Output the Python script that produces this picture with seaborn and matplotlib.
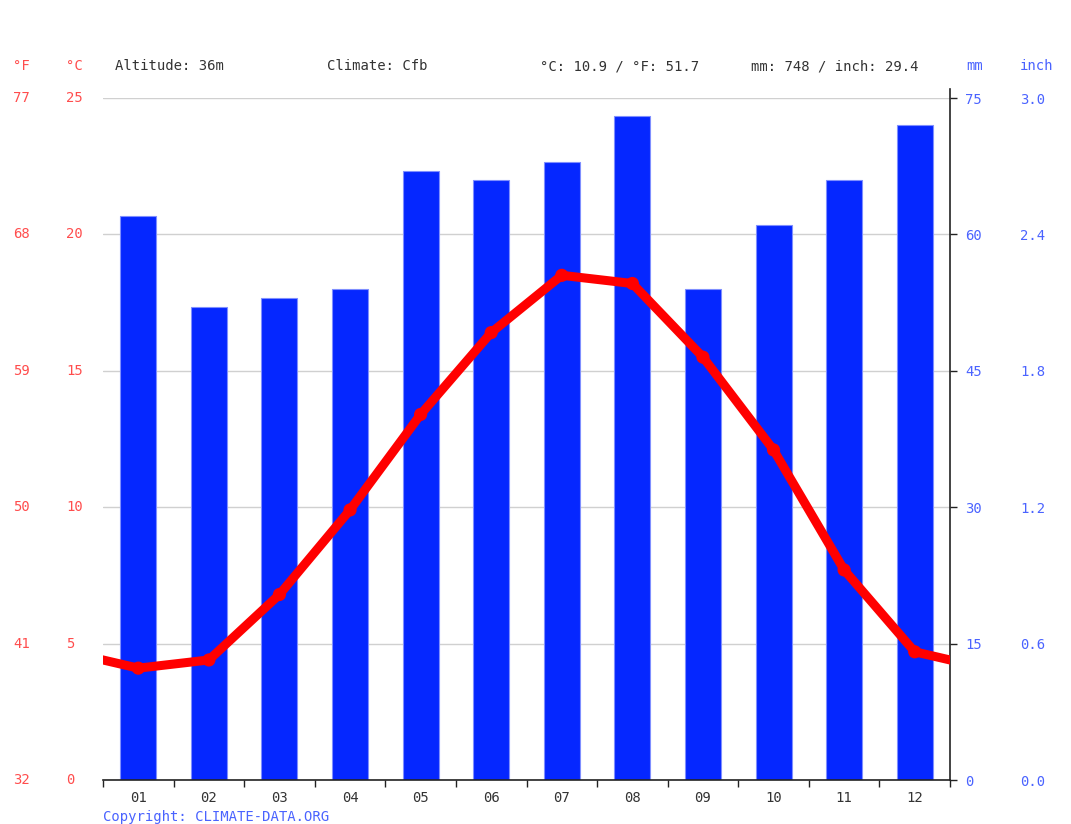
import matplotlib
matplotlib.use("Agg")
import matplotlib.pyplot as plt
import matplotlib.transforms as mtransforms
import seaborn as sns
import numpy as np
import pandas as pd

# %%
months = list(range(1, 13))
month_labels = ["01", "02", "03", "04", "05", "06", "07", "08", "09", "10", "11", "12"]
precip_mm = [62, 52, 53, 54, 67, 66, 68, 73, 54, 61, 66, 72]
temp_c = [4.1, 4.4, 6.8, 9.9, 13.4, 16.4, 18.5, 18.2, 15.5, 12.1, 7.7, 4.7]
c_ticks = [0, 5, 10, 15, 20, 25]
mm_ticks = [0, 15, 30, 45, 60, 75]
header_items = ["Altitude: 36m", "Climate: Cfb", "°C: 10.9 / °F: 51.7", "mm: 748 / inch: 29.4"]

# %%
sns.set_style("white")
plt.rcParams["font.family"] = ["DejaVu Sans Mono"]
plt.rcParams["font.size"] = 10

red_txt = "#ff4d4d"
blue_txt = "#4a63ff"
bar_col = "#0527ff"

fig = plt.figure(figsize=(10.71, 8.24), dpi=100)
ax = fig.add_axes([103 / 1071, 44 / 824, 847 / 1071, 682 / 824])
ax_t = ax.twinx()

# precipitation bars on the mm axis
df_p = pd.DataFrame({"month": months, "mm": precip_mm})
sns.barplot(data=df_p, x="month", y="mm", native_scale=True, width=0.51,
            color=bar_col, saturation=1, edgecolor="#7f8fff", linewidth=0.8, ax=ax)
ax.set_xlim(0.5, 12.5)
ax.set_ylim(0, 75)
ax.set_xlabel("")
ax.set_ylabel("")
ax.set_axisbelow(True)
ax.yaxis.grid(True, color="#d0d0d0", linewidth=1)
ax.xaxis.grid(False)
ax.set_yticks(mm_ticks)
ax.set_yticklabels([str(v) for v in mm_ticks], color=blue_txt)
ax.yaxis.tick_right()
ax.tick_params(axis="y", which="major", direction="out", length=5, width=1,
               color="#222222", pad=6, right=True, left=False,
               labelright=True, labelleft=False)
ax.set_xticks(months)
ax.set_xticklabels(month_labels, color="#333333")
ax.set_xticks([m + 0.5 for m in [0] + months], minor=True)
ax.tick_params(axis="x", which="major", length=0, pad=8)
ax.tick_params(axis="x", which="minor", direction="out", length=5, width=1,
               color="#222222", bottom=True)
for side in ["top", "left"]:
    ax.spines[side].set_visible(False)
for side in ["bottom", "right"]:
    ax.spines[side].set_color("#222222")
    ax.spines[side].set_linewidth(1.2)
ax.spines["right"].set_bounds(0, 76)

# temperature line on the °C axis
ax_t.set_ylim(0, 25)
ax_t.set_yticks([])
for side in ax_t.spines:
    ax_t.spines[side].set_visible(False)
wrap_x = [0] + months + [13]
wrap_t = [temp_c[-1]] + temp_c + [temp_c[0]]
sns.lineplot(x=wrap_x, y=wrap_t, color="#ff0000", linewidth=6.5, sort=False,
             solid_joinstyle="round", ax=ax_t)
sns.scatterplot(x=months, y=temp_c, color="#ff0000", s=90, edgecolor="none",
                zorder=5, ax=ax_t)
ax_t.set_xlim(0.5, 12.5)
ax_t.set_ylabel("")

# left labels: °F and °C columns
trans_c = mtransforms.blended_transform_factory(fig.transFigure, ax_t.transData)
for c in c_ticks:
    f = c * 9 / 5 + 32
    ax_t.text(13 / 1071, c, f"{f:.0f}", transform=trans_c, color=red_txt,
              ha="left", va="center")
    ax_t.text(66 / 1071, c, f"{c}", transform=trans_c, color=red_txt,
              ha="left", va="center")

# right labels: inch column
trans_mm = mtransforms.blended_transform_factory(fig.transFigure, ax.transData)
for mm in mm_ticks:
    ax.text(1020 / 1071, mm, f"{mm / 25.4:.1f}", transform=trans_mm,
            color=blue_txt, ha="left", va="center_baseline")

# header row
hy = 1 - 66 / 824
fig.text(13 / 1071, hy, "°F", color=red_txt, ha="left", va="center")
fig.text(66 / 1071, hy, "°C", color=red_txt, ha="left", va="center")
for xp, txt in zip([115, 327, 540, 751], header_items):
    fig.text(xp / 1071, hy, txt, color="#333333", ha="left", va="center")
fig.text(966 / 1071, hy, "mm", color=blue_txt, ha="left", va="center")
fig.text(1020 / 1071, hy, "inch", color=blue_txt, ha="left", va="center")

fig.text(103 / 1071, 1 - 817 / 824, "Copyright: CLIMATE-DATA.ORG",
         color=blue_txt, ha="left", va="center")

plt.savefig("out.png", dpi=100)
